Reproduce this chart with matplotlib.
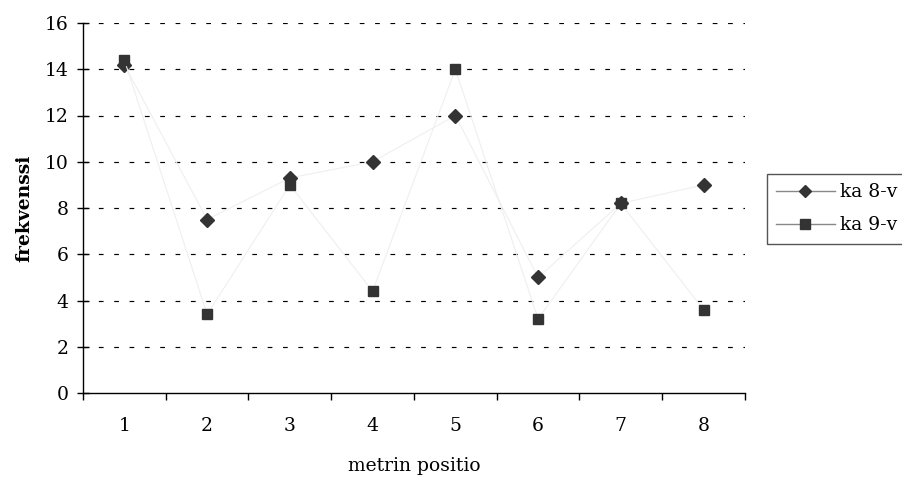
import matplotlib
matplotlib.use("Agg")
import matplotlib.pyplot as plt
from matplotlib.lines import Line2D

positions = [1, 2, 3, 4, 5, 6, 7, 8]
ka8 = [14.2, 7.5, 9.3, 10.0, 12.0, 5.0, 8.2, 9.0]
ka9 = [14.4, 3.4, 9.0, 4.4, 14.0, 3.2, 8.2, 3.6]
series_names = ["ka 8-v", "ka 9-v"]
yticks = [0, 2, 4, 6, 8, 10, 12, 14, 16]

plt.rcParams['font.family'] = ['DejaVu Serif']
FS = 13.5
plt.rcParams['font.size'] = FS

fig = plt.figure(figsize=(9.03, 4.79), dpi=100)
ax = fig.add_axes([83/903, 1-393/479, (745-83)/903, (393-23)/479])

ax.plot(positions, ka8, color='#efefef', lw=0.8, marker='D', ms=7,
        mfc='#333333', mec='#333333', zorder=3)
ax.plot(positions, ka9, color='#efefef', lw=0.8, marker='s', ms=7.5,
        mfc='#333333', mec='#333333', zorder=3)

ax.set_xlim(0.5, 8.5)
ax.set_ylim(0, 16)
ax.set_yticks(yticks)
ax.set_xticks([p - 0.5 for p in positions] + [8.5])
ax.set_xticklabels([])
ax.set_xticks(positions, minor=True)
ax.set_xticklabels([str(p) for p in positions], minor=True)
ax.tick_params(axis='x', which='major', direction='out', length=5, width=1, color='black')
ax.tick_params(axis='x', which='minor', length=0, pad=17, labelsize=FS)
ax.tick_params(axis='y', direction='inout', length=9, width=1, pad=6, labelsize=FS)

for y in yticks[1:]:
    ax.axhline(y, color='black', lw=0.85, ls=(0, (4, 9)), zorder=1)

for s in ['top', 'right']:
    ax.spines[s].set_visible(False)
for s in ['left', 'bottom']:
    ax.spines[s].set_linewidth(1)
    ax.spines[s].set_color('black')

ax.set_ylabel('frekvenssi', fontweight='bold', fontsize=FS, labelpad=8)
ax.set_xlabel('metrin positio', fontsize=FS, labelpad=16)

handles = [
    Line2D([], [], color='#888888', lw=1, marker='D', ms=6.5, mfc='#333333', mec='#333333'),
    Line2D([], [], color='#888888', lw=1, marker='s', ms=6.5, mfc='#333333', mec='#333333'),
]
leg = fig.legend(handles, series_names, loc='upper left', bbox_to_anchor=(767/903, 1-174/479),
                 frameon=True, fancybox=False, edgecolor='#555555', framealpha=1,
                 handlelength=3.1, handletextpad=0.3, borderpad=0.5, labelspacing=0.8,
                 borderaxespad=0, fontsize=FS)
leg.get_frame().set_linewidth(1)

fig.savefig('out.png', dpi=100)
